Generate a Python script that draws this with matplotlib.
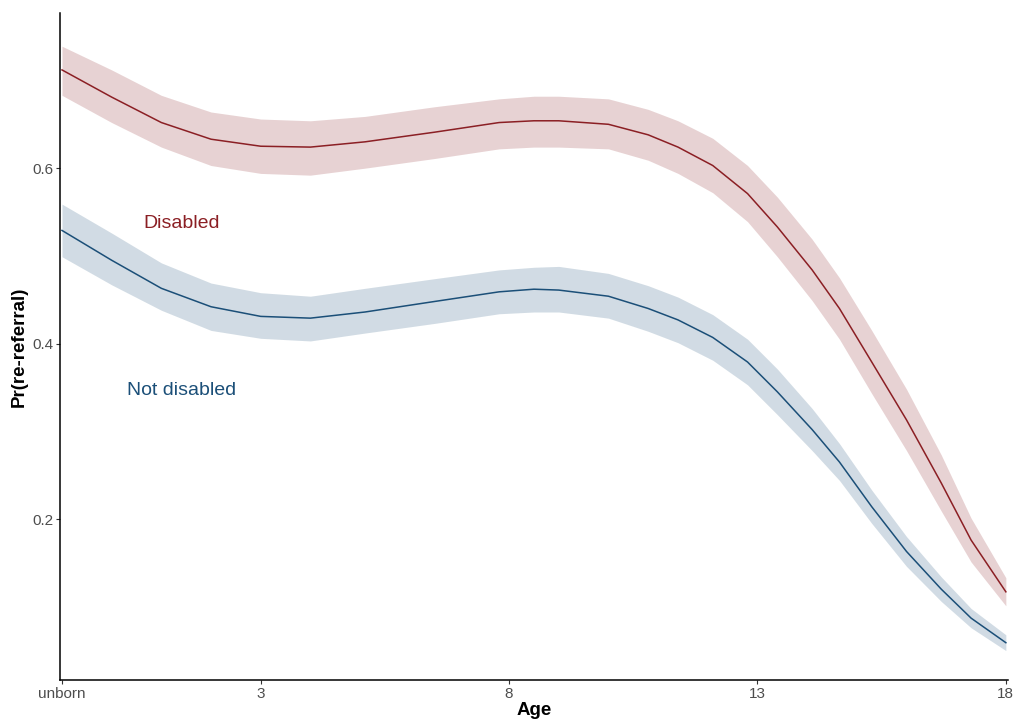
import matplotlib
matplotlib.use("Agg")
import matplotlib.pyplot as plt

plt.rcParams['font.family'] = ['Liberation Sans', 'DejaVu Sans']

# age (-1 = unborn)
age = [-1, 0, 1, 2, 3, 4, 5.1, 6.5, 7.8, 8.5, 9, 10, 10.8, 11.4, 12.1, 12.8,
       13.4, 14.1, 14.65, 15.3, 16, 16.7, 17.3, 18]

dis_fit = [0.712, 0.681, 0.652, 0.633, 0.625, 0.624, 0.630, 0.641, 0.652, 0.654,
           0.654, 0.650, 0.638, 0.624, 0.603, 0.571, 0.533, 0.484, 0.440, 0.379,
           0.313, 0.241, 0.176, 0.117]
dis_lo = [0.683, 0.652, 0.624, 0.603, 0.594, 0.592, 0.600, 0.611, 0.622, 0.624,
          0.624, 0.622, 0.609, 0.594, 0.572, 0.539, 0.499, 0.449, 0.405, 0.343,
          0.278, 0.209, 0.151, 0.101]
dis_hi = [0.739, 0.712, 0.683, 0.664, 0.656, 0.654, 0.659, 0.670, 0.679, 0.682,
          0.682, 0.679, 0.667, 0.654, 0.634, 0.603, 0.567, 0.519, 0.475, 0.415,
          0.348, 0.273, 0.201, 0.133]

nd_fit = [0.529, 0.495, 0.463, 0.442, 0.431, 0.429, 0.436, 0.448, 0.459, 0.462,
          0.461, 0.454, 0.440, 0.427, 0.407, 0.379, 0.345, 0.302, 0.265, 0.214,
          0.163, 0.120, 0.087, 0.059]
nd_lo = [0.499, 0.467, 0.438, 0.415, 0.406, 0.403, 0.412, 0.423, 0.434, 0.436,
         0.436, 0.429, 0.414, 0.401, 0.381, 0.353, 0.319, 0.278, 0.244, 0.195,
         0.146, 0.106, 0.076, 0.050]
nd_hi = [0.559, 0.526, 0.492, 0.469, 0.458, 0.454, 0.463, 0.474, 0.484, 0.487,
         0.488, 0.480, 0.466, 0.453, 0.433, 0.405, 0.371, 0.326, 0.286, 0.233,
         0.180, 0.134, 0.098, 0.068]

xticks = [-1, 3, 8, 13, 18]
xticklabels = ['unborn', '3', '8', '13', '18']
yticks = [0.2, 0.4, 0.6]

red = '#8b1f24'
blue = '#1b4f78'

fig = plt.figure(figsize=(10.17, 7.2), dpi=100)
ax = fig.add_axes([0.059, 0.0556, 0.932, 0.926])

ax.fill_between(age, dis_lo, dis_hi, color=red, alpha=0.2, linewidth=0)
ax.plot(age, dis_fit, color=red, lw=1.1)
ax.fill_between(age, nd_lo, nd_hi, color=blue, alpha=0.2, linewidth=0)
ax.plot(age, nd_fit, color=blue, lw=1.1)

ax.text(1.4, 0.537, 'Disabled', color=red, fontsize=14, ha='center', va='center')
ax.text(1.4, 0.347, 'Not disabled', color=blue, fontsize=14, ha='center', va='center')

ax.set_xlim(-1.04, 18.04)
ax.set_ylim(0.0165, 0.7766)
ax.set_xticks(xticks)
ax.set_xticklabels(xticklabels)
ax.set_yticks(yticks)
ax.set_yticklabels(['0.2', '0.4', '0.6'])
ax.tick_params(colors='#333333', labelcolor='#4d4d4d', labelsize=11, length=3,
               width=0.8, pad=2)

for s in ['top', 'right']:
    ax.spines[s].set_visible(False)
for s in ['left', 'bottom']:
    ax.spines[s].set_linewidth(1.1)
    ax.spines[s].set_color('black')

ax.set_xlabel('Age', fontsize=13.5, fontweight='bold', labelpad=1)
ax.set_ylabel('Pr(re-referral)', fontsize=13.5, fontweight='bold', labelpad=3)

fig.savefig('out.png', dpi=100)
